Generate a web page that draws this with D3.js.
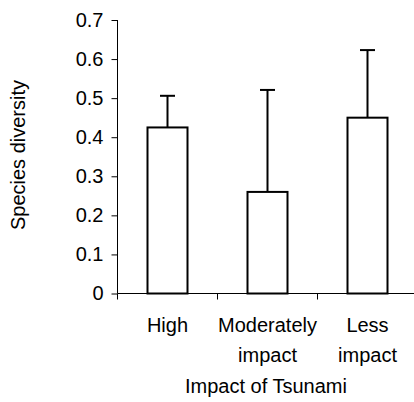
<!DOCTYPE html>
<html>
<head>
<meta charset="utf-8">
<script src="https://cdn.jsdelivr.net/npm/d3@7"></script>
<style>
  html, body { margin: 0; padding: 0; background: #fff; }
  svg { display: block; }
  text { font-family: "Liberation Sans", Arial, sans-serif; fill: #000; }
</style>
</head>
<body>
<svg id="chart" width="414" height="402"></svg>
<script>
// Species diversity by tsunami impact level (mean with upper error bar)
const categories = [["High"], ["Moderately", "impact"], ["Less", "impact"]];
const means = [0.425, 0.26, 0.45];
const errors = [0.081, 0.261, 0.173];
const yTicks = [0, 0.1, 0.2, 0.3, 0.4, 0.5, 0.6, 0.7];
const yTickLabels = ["0", "0.1", "0.2", "0.3", "0.4", "0.5", "0.6", "0.7"];

const svg = d3.select("#chart");
const margin = { left: 117.5, top: 20, bottom: 108.5 };
const plotW = 300, plotH = 402 - margin.top - margin.bottom;

const x = d3.scaleBand().domain(d3.range(categories.length))
  .range([margin.left, margin.left + plotW]).paddingInner(0).paddingOuter(0);
const y = d3.scaleLinear().domain([0, 0.7]).range([margin.top + plotH, margin.top]);
const barW = x.bandwidth() * 0.4;

// Y axis
const yAxis = d3.axisLeft(y).tickValues(yTicks)
  .tickFormat((d, i) => yTickLabels[i]).tickSize(6).tickPadding(8);
const gy = svg.append("g").attr("transform", `translate(${margin.left},0)`).call(yAxis);
gy.select(".domain").attr("d", `M0,${y(0.7)}V${y(0)}`).attr("stroke", "#000");
gy.selectAll(".tick line").attr("stroke", "#000");
gy.selectAll(".tick text").style("font-size", "20px").attr("font-family", null);

// Error bars (upper only)
const eb = svg.append("g").attr("stroke", "#000").attr("stroke-width", 2);
means.forEach((m, i) => {
  const cx = x(i) + x.bandwidth() / 2;
  eb.append("line").attr("x1", cx).attr("x2", cx)
    .attr("y1", y(m)).attr("y2", y(m + errors[i]));
  eb.append("line").attr("x1", cx - 7.5).attr("x2", cx + 7.5)
    .attr("y1", y(m + errors[i])).attr("y2", y(m + errors[i]));
});

// Bars
svg.append("g").selectAll("rect").data(means).join("rect")
  .attr("x", (d, i) => x(i) + (x.bandwidth() - barW) / 2)
  .attr("y", d => y(d))
  .attr("width", barW)
  .attr("height", d => y(0) - y(d))
  .attr("fill", "#fff").attr("stroke", "#000").attr("stroke-width", 2);

// X axis
const xAxis = d3.axisBottom(x).tickSize(0).tickFormat("");
const gx = svg.append("g").attr("transform", `translate(0,${y(0)})`).call(xAxis);
gx.select(".domain").attr("d", `M${margin.left},0H${margin.left + plotW}`).attr("stroke", "#000");
const bounds = d3.range(categories.length + 1).map(i => margin.left + i * x.bandwidth());
gx.selectAll(".bound").data(bounds).join("line").attr("class", "bound")
  .attr("x1", d => d).attr("x2", d => d).attr("y1", 0).attr("y2", 6).attr("stroke", "#000");

// Category labels
categories.forEach((lines, i) => {
  const t = svg.append("text").attr("text-anchor", "middle")
    .attr("x", x(i) + x.bandwidth() / 2).attr("y", 331.5).style("font-size", "20px");
  lines.forEach((s, j) => t.append("tspan")
    .attr("x", x(i) + x.bandwidth() / 2).attr("dy", j === 0 ? 0 : 30).text(s));
});

// Axis titles
svg.append("text").attr("text-anchor", "middle")
  .attr("x", 266).attr("y", 393).style("font-size", "20px").text("Impact of Tsunami");
svg.append("text").attr("text-anchor", "middle")
  .attr("transform", "translate(24.5,155) rotate(-90)")
  .style("font-size", "20px").text("Species diversity");
</script>
</body>
</html>
